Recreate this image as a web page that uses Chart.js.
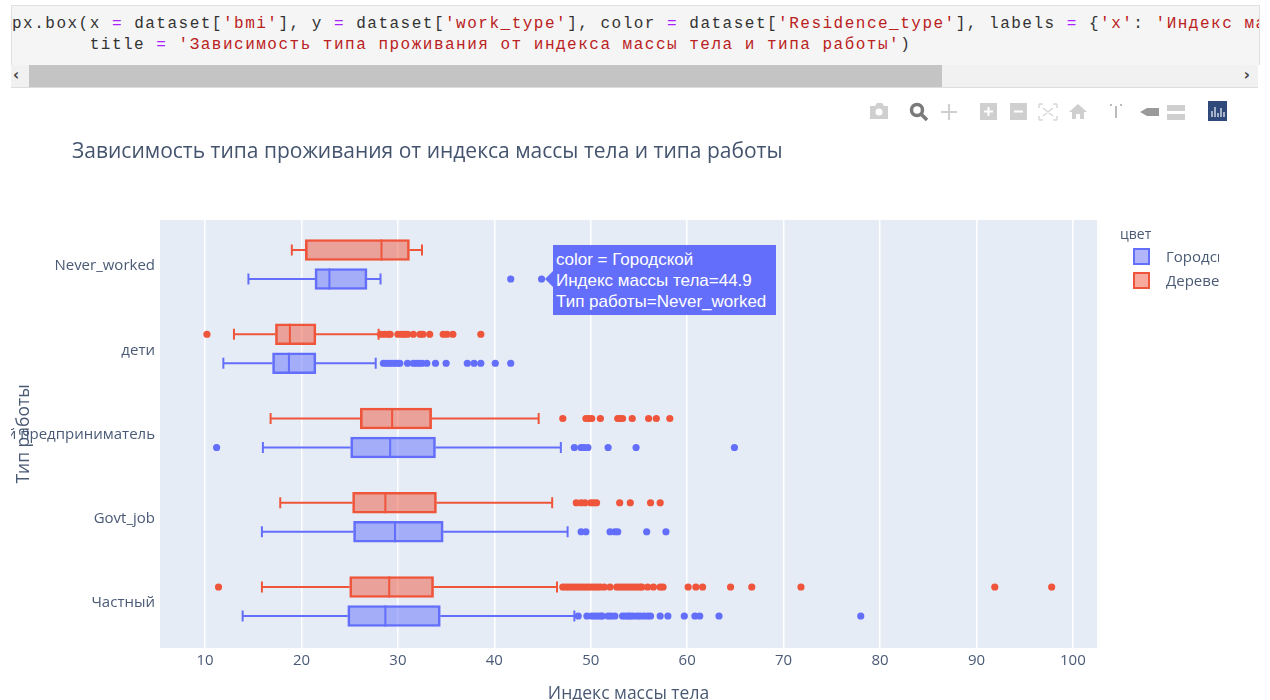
<!DOCTYPE html>
<html>
<head>
<meta charset="utf-8">
<script src="https://cdn.jsdelivr.net/npm/chart.js@4"></script>
<style>
  html, body { margin: 0; padding: 0; width: 1270px; height: 700px; overflow: hidden; background: #fff; }
  #page { position: absolute; left: 0; top: 0; width: 1270px; height: 700px; overflow: hidden; filter: blur(0.55px); }
  #cell { position: absolute; left: 11px; top: 5px; width: 1247px; height: 59px; background: #f5f5f5; border: 1px solid #e0e0e0; border-bottom: 0; overflow: hidden; }
  #cell pre { position: absolute; left: 0; top: 8px; margin: 0; font: 16px/21px "Liberation Mono", monospace; letter-spacing: 1.5px; color: #333; white-space: pre; }
  #cell .o { color: #aa22ff; }
  #cell .s { color: #ba2121; }
  #bar { position: absolute; left: 11px; top: 65px; width: 1247px; height: 22px; background: #f1f1f1; border-bottom: 1px solid #ddd; }
  #thumb { position: absolute; left: 18px; top: 0; width: 913px; height: 22px; background: #c4c4c4; }
  .arrow { position: absolute; top: 0; font: bold 15px/21px "DejaVu Sans"; color: #444; }
  #title { position: absolute; left: 72px; top: 137px; font: 21px/26px "Open Sans"; color: #44546e; white-space: nowrap; }
  #chart { position: absolute; left: 11px; top: 220px; }
  #legend { position: absolute; left: 1120px; top: 225px; width: 99px; height: 70px; overflow: hidden; font: 14px/20px "Open Sans"; color: #4a5a75; }
  .swatch { position: absolute; left: 13px; width: 13px; height: 13px; border: 2px solid; }
  .ltext { position: absolute; left: 46px; white-space: nowrap; font-size: 15px; }
  #tip { position: absolute; left: 553px; top: 245px; width: 220px; height: 70px; padding-left: 3px; background: #636efa; color: #fff; font: 17px/21px "Liberation Sans"; white-space: nowrap; }
  #tip div:first-child { margin-top: 4px; }
  #tipArrow { position: absolute; left: 545px; top: 271px; width: 0; height: 0; border: 8px solid transparent; border-left: 0; border-right-color: #636efa; }
  #tools { position: absolute; left: 0; top: 0; }
</style>
</head>
<body>
<div id="page">
  <div id="cell"><pre>px.box(x <span class="o">=</span> dataset[<span class="s">'bmi'</span>], y <span class="o">=</span> dataset[<span class="s">'work_type'</span>], color <span class="o">=</span> dataset[<span class="s">'Residence_type'</span>], labels <span class="o">=</span> {<span class="s">'x'</span>: <span class="s">'Индекс массы тела'</span>, <span class="s">'y'</span>: <span class="s">'Тип работы'</span>},
       title <span class="o">=</span> <span class="s">'Зависимость типа проживания от индекса массы тела и типа работы'</span>)</pre></div>
  <div id="bar"><div id="thumb"></div><span class="arrow" style="left:2px">‹</span><span class="arrow" style="right:8px">›</span></div>

  <svg id="tools" width="1270" height="130">
    <g fill="#cfcfcf" stroke="none">
      <path d="M870 106h5l2-3h5l2 3h4v13h-18z"/>
      <rect x="980" y="103" width="17" height="17"/>
      <rect x="1010" y="103" width="17" height="17"/>
      <path d="M1069 112l9-8 9 8h-3v7h-4v-5h-4v5h-4v-7z"/>
      <path d="M1140 112l7-4h12v8h-12z" fill="#9a9a9a"/>
      <rect x="1167" y="105" width="18" height="6"/><rect x="1167" y="114" width="18" height="6"/>
    </g>
    <circle cx="879" cy="112" r="3.5" fill="#fff"/>
    <path d="M984 111.500h9M988.500 107v9M1014 111.500h9" stroke="#fff" stroke-width="2"/>
    <circle cx="917" cy="110" r="5.500" fill="none" stroke="#7a7a7a" stroke-width="3.500"/>
    <path d="M921 114l6 6" stroke="#7a7a7a" stroke-width="3.500"/>
    <path d="M949 104v16M941 112h16" stroke="#cfcfcf" stroke-width="2"/>
    <path d="M1039 104h4M1053 104h4M1039 120h4M1053 120h4M1039 104v4M1057 104v4M1039 120v-4M1057 120v-4M1043 108l10 8M1053 108l-10 8" stroke="#d8d8d8" stroke-width="1.500" fill="none"/>
    <path d="M1116 106v12M1110 105h2M1120 105h2" stroke="#bbb" stroke-width="2"/>
    <rect x="1208" y="101" width="19" height="20" fill="#2f4a7a"/>
    <path d="M1212 117v-6M1215 117v-10M1218 117v-4M1221 117v-9M1224 117v-5" stroke="#cfd6e4" stroke-width="1.500"/>
  </svg>

  <div id="title">Зависимость типа проживания от индекса массы тела и типа работы</div>

  <canvas id="chart" width="1090" height="490"></canvas>

  <div id="tipArrow"></div>
  <div id="tip"><div>color = Городской</div><div>Индекс массы тела=44.9</div><div>Тип работы=Never_worked</div></div>

  <div id="legend">
    <div style="position:absolute;left:0;top:-1px">цвет</div>
    <div class="swatch" style="top:23px;border-color:#636efa;background:rgba(99,110,250,.5)"></div>
    <div class="ltext" style="top:21px">Городской</div>
    <div class="swatch" style="top:47px;border-color:#ef553b;background:rgba(239,85,59,.5)"></div>
    <div class="ltext" style="top:45px">Деревенский</div>
  </div>
</div>

<script>
const categories = ['Never_worked', 'дети', 'Индивидуальный предприниматель', 'Govt_job', 'Частный'];
const xTicks = [10, 20, 30, 40, 50, 60, 70, 80, 90, 100];

// Городской
const urbanLow = [14.5, 11.9, 16, 15.9, 13.9];
const urbanQ1 = [21.4, 17, 25.1, 25.4, 24.8];
const urbanMedian = [22.9, 18.7, 29.2, 29.7, 28.7];
const urbanQ3 = [26.8, 21.5, 33.9, 34.7, 34.4];
const urbanHigh = [28.2, 27.7, 46.9, 47.6, 48.3];
const urbanOutliers = [
  [41.7, 44.9],
  [28.5, 28.8, 29.1, 29.4, 29.7, 30, 30.2, 31, 31.6, 31.9, 32.2, 32.5, 33, 33.9, 35, 37.2, 37.9, 38.6, 40.1, 41.7],
  [11.2, 48.3, 49, 49.3, 49.7, 51.8, 54.7, 64.9],
  [49, 49.5, 52, 52.5, 52.8, 55.8, 57.8],
  [48.7, 49.6, 50.1, 50.4, 50.7, 51, 51.2, 51.8, 52.1, 52.5, 53.3, 53.6, 53.9, 54.1, 54.4, 54.8, 55.1, 55.5, 55.9, 56.2, 57.2, 58, 59.7, 60.8, 61.3, 63.3, 78]
];

// Деревенский
const ruralLow = [19, 13, 16.8, 17.8, 15.9];
const ruralQ1 = [20.4, 17.3, 26.1, 25.3, 25];
const ruralMedian = [28.3, 18.8, 29.4, 28.7, 29.1];
const ruralQ3 = [31.2, 21.5, 33.5, 34, 33.7];
const ruralHigh = [32.5, 28, 44.6, 46, 46.5];
const ruralOutliers = [
  [],
  [10.2, 28.2, 28.6, 29, 29.2, 30, 30.4, 30.7, 31, 31.6, 32.3, 32.6, 33.3, 34.7, 35.1, 35.7, 38.6],
  [47.1, 49.5, 49.8, 50.1, 51, 52.8, 53, 53.3, 54.3, 56, 56.8, 58.2],
  [48.5, 49, 49.4, 50, 50.3, 50.6, 53, 54.1, 56.2, 57.2],
  [11.4, 47.1, 47.4, 47.7, 48, 48.3, 48.6, 48.9, 49.2, 49.5, 49.8, 50.1, 50.4, 50.7, 51, 51.4, 52, 52.7, 53, 53.3, 53.6, 53.9, 54.2, 54.5, 54.8, 55.1, 55.3, 55.9, 56.5, 57.2, 57.5, 60.1, 60.9, 61.6, 64.5, 66.7, 71.8, 91.9, 97.8]
];

// one colour of the box plot: box, whiskers, caps, medians and outliers as separate datasets
function boxDatasets(name, color, fill, shift, low, q1, median, q3, high, outliers) {
  const whisker = [];
  const caps = [];
  categories.forEach((c, i) => {
    const y = i + shift;
    whisker.push({ x: low[i], y }, { x: q1[i], y }, { x: null, y: null });
    whisker.push({ x: q3[i], y }, { x: high[i], y }, { x: null, y: null });
    caps.push({ x: low[i], y }, { x: high[i], y });
  });
  const dots = [];
  outliers.forEach((row, i) => row.forEach(x => dots.push({ x, y: i + shift })));
  const marker = { type: 'scatter', pointStyle: 'line', rotation: 90, borderColor: color, pointBorderWidth: 2 };
  return [
    {
      type: 'bar', label: name, indexAxis: 'y', grouped: false, barThickness: 21, borderSkipped: false,
      borderWidth: 2, borderColor: color, backgroundColor: fill, order: 3,
      data: categories.map((c, i) => ({ y: i + shift, x: [q1[i], q3[i]] }))
    },
    { type: 'scatter', showLine: true, spanGaps: false, borderColor: color, borderWidth: 2, pointRadius: 0, order: 4, data: whisker },
    { ...marker, pointRadius: 5.5, order: 2, data: caps },
    { ...marker, pointRadius: 10.5, order: 1, data: categories.map((c, i) => ({ x: median[i], y: i + shift })) },
    { type: 'scatter', pointRadius: 3.6, pointBackgroundColor: color, pointBorderWidth: 0, order: 0, data: dots }
  ];
}

const tickFont = { family: 'Open Sans', size: 15 };
const titleFont = { family: 'Open Sans', size: 17.5 };
const axisColor = '#4a5a75';

// fills the plot area behind the grid
const plotBackground = {
  id: 'plotBackground',
  beforeDraw(chart) {
    const { ctx, chartArea: a } = chart;
    ctx.save();
    ctx.fillStyle = '#e5ecf6';
    ctx.fillRect(a.left, a.top, a.right - a.left, a.bottom - a.top);
    ctx.restore();
  }
};

// keep the plot area at a fixed size, labels may hang over its ends
function noMargins(axis) {
  axis.paddingLeft = axis.paddingRight = axis.paddingTop = axis.paddingBottom = 0;
}

new Chart(document.getElementById('chart'), {
  type: 'bar',
  plugins: [plotBackground],
  data: {
    datasets: [
      ...boxDatasets('Деревенский', '#ef553b', 'rgba(239,85,59,0.5)', -0.172, ruralLow, ruralQ1, ruralMedian, ruralQ3, ruralHigh, ruralOutliers),
      ...boxDatasets('Городской', '#636efa', 'rgba(99,110,250,0.5)', 0.172, urbanLow, urbanQ1, urbanMedian, urbanQ3, urbanHigh, urbanOutliers)
    ]
  },
  options: {
    responsive: false,
    animation: false,
    layout: { autoPadding: false, padding: { right: 4 } },
    plugins: { legend: { display: false }, tooltip: { enabled: false } },
    scales: {
      x: {
        type: 'linear',
        offset: false,
        min: 5.33,
        max: 102.5,
        afterBuildTicks: axis => { axis.ticks = xTicks.map(value => ({ value })); },
        afterFit: axis => { axis.height = 62; noMargins(axis); },
        grid: { color: '#fff', lineWidth: 1.5, drawTicks: false, offset: false },
        border: { display: false },
        ticks: { font: tickFont, color: axisColor, padding: 4, maxRotation: 0 },
        title: { display: true, text: 'Индекс массы тела', font: titleFont, color: axisColor, padding: { top: 0, bottom: 5 } }
      },
      y: {
        type: 'linear',
        offset: false,
        reverse: true,
        min: -0.528,
        max: 4.552,
        afterBuildTicks: axis => { axis.ticks = categories.map((c, i) => ({ value: i })); },
        afterFit: axis => { axis.width = 149; noMargins(axis); },
        grid: { display: false, drawTicks: false, offset: false },
        border: { display: false },
        ticks: { font: tickFont, color: axisColor, padding: 5, labelOffset: 1.5, autoSkip: false, callback: v => categories[v] },
        title: { display: true, text: 'Тип работы', font: titleFont, color: axisColor, padding: { top: 3, bottom: 0 } }
      }
    }
  }
});
</script>
</body>
</html>
